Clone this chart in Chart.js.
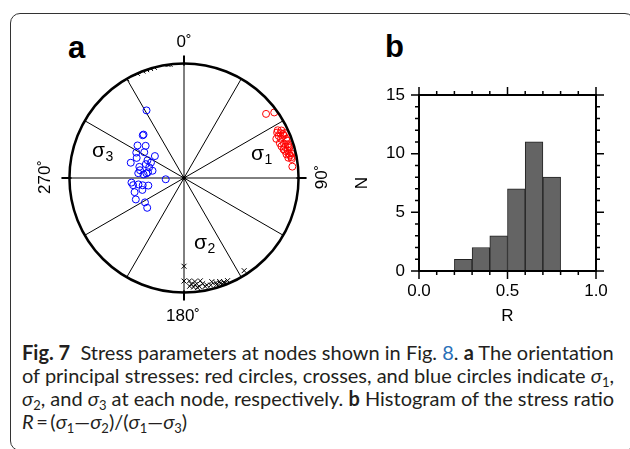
<!DOCTYPE html>
<html>
<head>
<meta charset="utf-8">
<script src="https://cdn.jsdelivr.net/npm/chart.js@4.4.1/dist/chart.umd.min.js"></script>
<style>
body { margin: 0; width: 630px; height: 449px; overflow: hidden; position: relative; background: #fff; font-family: "Liberation Sans", Arial, sans-serif; }
#frame { position: absolute; left: 10px; top: 13px; width: 623px; height: 436px; border: 1px solid #333; border-radius: 10px; }
.panel { position: absolute; font-weight: bold; font-size: 31px; line-height: 31px; color: #000; }
#net { position: absolute; left: 34px; top: 28px; }
#hist { position: absolute; left: 340px; top: 20px; }
.cap { position: absolute; left: 22px; white-space: nowrap; font-family: Lato, "Open Sans", sans-serif; font-size: 20px; color: #231f20; line-height: 20px; }
.cap sub { font-size: 13px; vertical-align: -4px; line-height: 0; }
.lnk { color: #2a70b8; }
</style>
</head>
<body>
<div id="frame"></div>
<div class="panel" style="left:68px;top:32px">a</div>
<div class="panel" style="left:385px;top:31px">b</div>
<canvas id="net" width="300" height="300"></canvas>
<canvas id="hist" width="290" height="320"></canvas>
<div class="cap" style="top:342px"><b>Fig. 7</b>&nbsp; Stress parameters at nodes shown in Fig. <span class="lnk">8</span>. <b>a</b> The orientation</div>
<div class="cap" style="top:365px">of principal stresses: red circles, crosses, and blue circles indicate <i>σ</i><sub>1</sub>,</div>
<div class="cap" style="top:388px"><i>σ</i><sub>2</sub>, and <i>σ</i><sub>3</sub> at each node, respectively. <b>b</b> Histogram of the stress ratio</div>
<div class="cap" style="top:411px"><i>R</i>&thinsp;=&thinsp;(<i>σ</i><sub>1</sub>—<i>σ</i><sub>2</sub>)/(<i>σ</i><sub>1</sub>—<i>σ</i><sub>3</sub>)</div>
<script>
// principal stress axes at each node, trend / plunge in degrees
const sigma1Trend  = [52, 54, 64, 64, 66, 66, 67, 67, 68, 69, 70, 71, 72, 72, 73, 74, 74, 75, 77, 77, 78, 80, 79, 84, 66, 70, 63, 77, 75, 73, 79, 65];
const sigma1Plunge = [10, 3, 10.5, 6, 4, 10.5, 6, 13.5, 9.5, 5, 12, 8.5, 5, 11.5, 8.5, 5, 10.5, 7, 4.5, 9, 6, 5, 8, 5.5, 6, 5, 9, 6.5, 9.5, 5, 5, 8];
const sigma2Trend  = [180, 180, 177, 176, 174, 171, 170, 165, 163, 161, 159, 157, 147, 174, 172, 169, 168, 166, 161, 159, 175, 173, 163, 177, 330, 336, 339, 341, 343, 345, 352, 353];
const sigma2Plunge = [24, 11, 11, 8, 10, 10, 7, 7, 5, 5, 3, 3, 4, 7, 5, 4, 5, 4, 3, 2, 5, 4, 3, 6, 0, 0, 0, 0, 0, 0, 0, 0];
const sigma3Trend  = [331, 316, 317, 305, 310, 298, 303, 307, 286, 293, 296, 280, 290, 287, 283, 276, 275, 277, 266, 265, 262, 258, 254, 254, 246, 238, 231, 262, 284, 279, 260, 295];
const sigma3Plunge = [33, 47, 47, 49, 54, 51, 56, 64, 50, 53, 61, 58, 61, 64, 67, 57, 61, 63, 77, 52, 57, 64, 53, 59, 52, 57, 56, 53, 57, 64, 60, 64];

// stress ratio histogram
const rBins   = [0.05, 0.15, 0.25, 0.35, 0.45, 0.55, 0.65, 0.75, 0.85, 0.95];
const rCounts = [0, 0, 1, 2, 3, 7, 11, 8, 0, 0];
const rTicks  = [0, 0.5, 1.0];
const nTicks  = [0, 5, 10, 15];

// lower hemisphere equal-area projection
function project(trend, plunge) {
    var r = Math.SQRT2 * Math.sin((90 - plunge) * Math.PI / 360);
    var a = trend * Math.PI / 180;
    return {x: r * Math.sin(a), y: r * Math.cos(a)};
}
function points(trends, plunges) {
    return trends.map(function (t, i) { return project(t, plunges[i]); });
}

const FONT = '"Liberation Sans", Arial, sans-serif';

function sigmaLabel(ctx, x, y, sub) {
    ctx.font = '21px ' + FONT;
    ctx.textAlign = 'left';
    ctx.fillText('σ', x, y);
    var w = ctx.measureText('σ').width;
    ctx.font = '14px ' + FONT;
    ctx.fillText(sub, x + w + 0.5, y + 3.5);
}

const netPlugin = {
    id: 'net',
    beforeDatasetsDraw(chart) {
        const ctx = chart.ctx, sx = chart.scales.x, sy = chart.scales.y;
        const cx = sx.getPixelForValue(0), cy = sy.getPixelForValue(0);
        const r = sx.getPixelForValue(1) - cx;
        ctx.save();
        ctx.strokeStyle = '#000';
        ctx.fillStyle = '#000';
        ctx.lineWidth = 1;
        ctx.beginPath();
        for (let az = 0; az < 360; az += 30) {
            const a = az * Math.PI / 180;
            ctx.moveTo(cx, cy);
            ctx.lineTo(cx + r * Math.sin(a), cy - r * Math.cos(a));
        }
        ctx.stroke();
        // ticks at N E S W
        ctx.lineWidth = 2;
        ctx.beginPath();
        for (let az = 0; az < 360; az += 90) {
            const a = az * Math.PI / 180;
            ctx.moveTo(cx + (r - 2) * Math.sin(a), cy - (r - 2) * Math.cos(a));
            ctx.lineTo(cx + (r + 8) * Math.sin(a), cy - (r + 8) * Math.cos(a));
        }
        ctx.stroke();
        ctx.beginPath();
        ctx.arc(cx, cy, 2, 0, 2 * Math.PI);
        ctx.fill();

        ctx.font = '17px ' + FONT;
        ctx.textAlign = 'center';
        ctx.textBaseline = 'alphabetic';
        ctx.fillText('0˚', cx, cy - 131);
        ctx.fillText('180˚', cx - 1, cy + 143);
        ctx.save();
        ctx.translate(cx + 143, cy - 1);
        ctx.rotate(-Math.PI / 2);
        ctx.fillText('90˚', 0, 0);
        ctx.restore();
        ctx.save();
        ctx.translate(cx - 134, cy - 1);
        ctx.rotate(-Math.PI / 2);
        ctx.fillText('270˚', 0, 0);
        ctx.restore();

        sigmaLabel(ctx, cx + 67, cy - 18, '1');
        sigmaLabel(ctx, cx + 10, cy + 71, '2');
        sigmaLabel(ctx, cx - 92, cy - 21, '3');
        ctx.restore();

        ctx.save();
        ctx.beginPath();
        ctx.arc(cx, cy, r, 0, 2 * Math.PI);
        ctx.clip();
    },
    afterDatasetsDraw(chart) {
        const ctx = chart.ctx, sx = chart.scales.x, sy = chart.scales.y;
        ctx.restore();
        const cx = sx.getPixelForValue(0), cy = sy.getPixelForValue(0);
        const r = sx.getPixelForValue(1) - cx;
        ctx.save();
        ctx.strokeStyle = '#000';
        ctx.lineWidth = 2.5;
        ctx.beginPath();
        ctx.arc(cx, cy, r, 0, 2 * Math.PI);
        ctx.stroke();
        ctx.restore();
    }
};

const LIM = 150 / 118.5;

new Chart(document.getElementById('net'), {
    type: 'scatter',
    data: {
        datasets: [
            {label: 'σ1', data: points(sigma1Trend, sigma1Plunge), pointStyle: 'circle', pointRadius: 3.5,
             borderColor: '#ff0000', backgroundColor: 'rgba(0,0,0,0)', borderWidth: 1},
            {label: 'σ2', data: points(sigma2Trend, sigma2Plunge), pointStyle: 'crossRot', pointRadius: 3.5,
             borderColor: '#000000', backgroundColor: 'rgba(0,0,0,0)', borderWidth: 1},
            {label: 'σ3', data: points(sigma3Trend, sigma3Plunge), pointStyle: 'circle', pointRadius: 3.5,
             borderColor: '#0000ff', backgroundColor: 'rgba(0,0,0,0)', borderWidth: 1}
        ]
    },
    options: {
        responsive: false,
        animation: false,
        events: [],
        layout: {padding: 0},
        scales: {
            x: {type: 'linear', min: -LIM, max: LIM, display: false},
            y: {type: 'linear', min: -LIM, max: LIM, display: false}
        },
        plugins: {legend: {display: false}, tooltip: {enabled: false}}
    },
    plugins: [netPlugin]
});

const histFrame = {
    id: 'histFrame',
    afterDraw(chart) {
        const ctx = chart.ctx, a = chart.chartArea, sx = chart.scales.x, sy = chart.scales.y;
        ctx.save();
        ctx.strokeStyle = '#000';
        ctx.lineWidth = 1.5;
        ctx.beginPath();
        for (let i = 0; i <= 10; i++) {
            const px = sx.getPixelForValue(i / 10);
            const len = i % 5 === 0 ? 8 : 4;
            ctx.moveTo(px, a.bottom); ctx.lineTo(px, a.bottom + len);
            ctx.moveTo(px, a.top); ctx.lineTo(px, a.top - len);
        }
        for (let j = 0; j <= 15; j++) {
            const py = sy.getPixelForValue(j);
            const len = j % 5 === 0 ? 8 : 4;
            ctx.moveTo(a.left, py); ctx.lineTo(a.left - len, py);
            ctx.moveTo(a.right, py); ctx.lineTo(a.right + len, py);
        }
        ctx.stroke();
        ctx.lineWidth = 2;
        ctx.strokeRect(a.left, a.top, a.right - a.left, a.bottom - a.top);
        ctx.restore();
    }
};

new Chart(document.getElementById('hist'), {
    type: 'bar',
    data: {
        datasets: [{
            label: 'N',
            data: rBins.map(function (x, i) { return {x: x, y: rCounts[i]}; }),
            backgroundColor: '#646464',
            borderColor: '#222',
            borderWidth: 1,
            borderSkipped: 'start',
            barPercentage: 1,
            categoryPercentage: 1
        }]
    },
    options: {
        responsive: false,
        animation: false,
        events: [],
        layout: {padding: {left: 0, top: 75, right: 34, bottom: 0}},
        scales: {
            x: {
                type: 'linear', min: 0, max: 1, offset: false,
                afterBuildTicks: function (s) { s.ticks = rTicks.map(function (v) { return {value: v}; }); },
                afterFit: function (s) { s.height = 69; },
                grid: {display: false},
                border: {display: false},
                ticks: {color: '#000', font: {family: FONT, size: 17}, padding: 2, maxRotation: 0,
                        callback: function (v) { return v.toFixed(1); }},
                title: {display: true, text: 'R', color: '#000', font: {family: FONT, size: 17}, padding: {top: 0, bottom: 13}}
            },
            y: {
                type: 'linear', min: 0, max: 15,
                afterBuildTicks: function (s) { s.ticks = nTicks.map(function (v) { return {value: v}; }); },
                afterFit: function (s) { s.width = 79; },
                grid: {display: false},
                border: {display: false},
                ticks: {color: '#000', font: {family: FONT, size: 17}, padding: 6},
                title: {display: true, text: 'N', color: '#000', font: {family: FONT, size: 17}, padding: {top: 12, bottom: 0}}
            }
        },
        plugins: {legend: {display: false}, tooltip: {enabled: false}}
    },
    plugins: [histFrame]
});
</script>
</body>
</html>
